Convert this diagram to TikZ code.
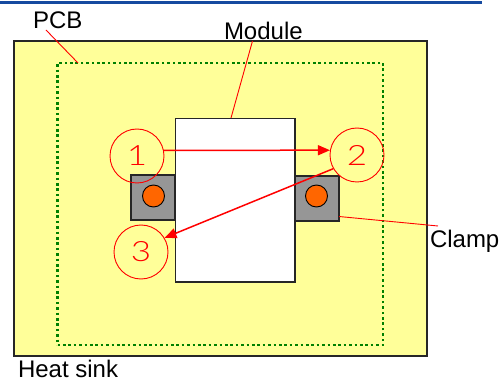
\documentclass[tikz,border=0pt]{standalone}
\usepackage{fontspec}
\setmainfont{Liberation Sans}
\newfontfamily\thindigits{Lato Light}
\usetikzlibrary{arrows.meta}
\definecolor{pcbyellow}{RGB}{255,255,153}
\definecolor{topblue}{RGB}{22,74,160}
\definecolor{dotgreen}{RGB}{0,128,0}
\definecolor{boltorange}{RGB}{255,102,0}
\definecolor{clampgray}{RGB}{150,150,150}
\tikzset{
  box/.style={draw=black!85,line width=1.2pt,inner sep=0pt,outer sep=0pt,anchor=north west},
  clampbox/.style={box,fill=clampgray,minimum width=44pt,minimum height=45pt},
  bolt/.style={circle,draw=black,line width=0.9pt,fill=boltorange,inner sep=0pt,minimum size=22pt},
  numcircle/.style={circle,draw=red,line width=0.9pt,inner sep=0pt,minimum size=54pt,text=red},
  label/.style={font=\fontsize{24pt}{24pt}\selectfont,inner sep=0pt,outer sep=0pt,text=black},
  leader/.style={draw=red,line width=0.9pt},
  flow/.style={draw=red,line width=1.5pt,-{Triangle[length=12pt,width=10pt]}},
}
\newcommand{\numtxt}[1]{\scalebox{1.25}[1]{\thindigits\fontsize{28pt}{28pt}\selectfont #1}}
\begin{document}
\begin{tikzpicture}[x=1pt,y=-1pt]
\useasboundingbox (0,0) rectangle (503,379);
\fill[white] (0,0) rectangle (503,379);
\coordinate (barL) at (0,2.5);
\coordinate (barR) at (482,2.5);
\draw[topblue,line width=2.4pt] (barL) -- (barR);
\node[box,fill=pcbyellow,minimum width=413pt,minimum height=315pt] (sink) at (14,41) {};
\node[draw=dotgreen,line width=2.6pt,dash pattern=on 2.6pt off 2.8pt,inner sep=0pt,outer sep=0pt,anchor=north west,minimum width=325.5pt,minimum height=282pt] (pcb) at (57.5,63) {};
\node[clampbox] (clampL) at (131,175) {};
\node[clampbox] (clampR) at (295,176) {};
\node[box,fill=white,minimum width=119.5pt,minimum height=163.5pt] (module) at (175.5,118.5) {};
\node[bolt] (boltL) at (153.5,196) {};
\node[bolt] (boltR) at (316.5,196) {};
\node[numcircle] (c1) at (137,156) {\numtxt{1}};
\node[numcircle] (c2) at (357,155) {\numtxt{2}};
\node[numcircle] (c3) at (141,252) {\numtxt{3}};
\node[label,anchor=base west] (lpcb) at (33,29) {PCB};
\node[label,anchor=base west] (lmod) at (224,40) {Module};
\node[label,anchor=base west] (lclamp) at (430,248) {Clamp};
\node[label,anchor=base west] (lsink) at (18,377) {Heat sink};
\coordinate (pcbS) at (46,30);
\coordinate (pcbE) at (78,63);
\coordinate (modS) at (252.5,41);
\coordinate (modE) at (231,118);
\coordinate (clE) at (438,226);
\coordinate (clS) at (339,216.5);
\draw[leader] (pcbS) -- (pcbE);
\draw[leader] (modS) -- (modE);
\draw[leader] (clS) -- (clE);
\draw[flow] (c1.12) -- (c2.170);
\draw[flow] (c2.210) -- (c3.31);
\end{tikzpicture}
\end{document}
